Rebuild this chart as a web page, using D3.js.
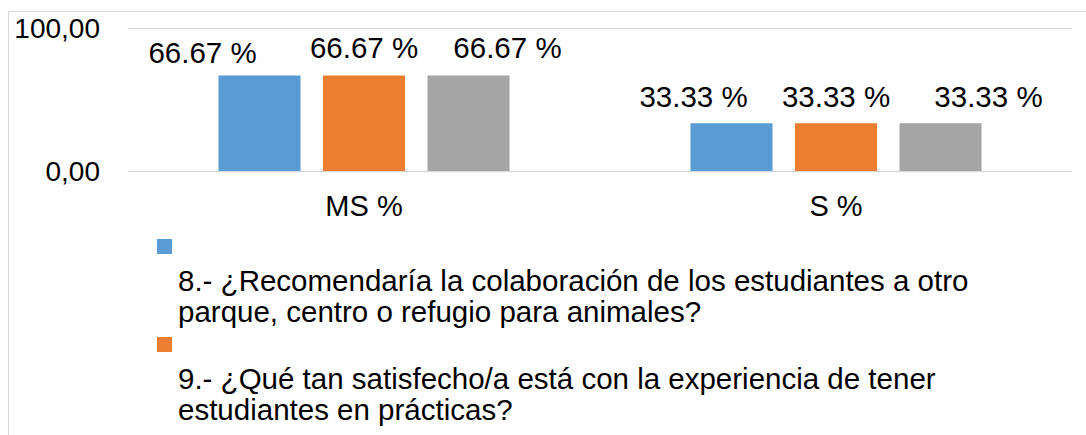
<!DOCTYPE html>
<html>
<head>
<meta charset="utf-8">
<script src="https://cdn.jsdelivr.net/npm/d3@7"></script>
<style>
  html, body { margin: 0; padding: 0; background: #fff; overflow: hidden; }
  svg { display: block; font-family: "Liberation Sans", Arial, sans-serif; }
</style>
</head>
<body>
<svg id="chart" width="1086" height="435"></svg>
<script>
// ---- data ----
const categories = ["MS %", "S %"];
const seriesKeys = ["q8", "q9", "q10"];
const seriesColors = ["#5b9bd5", "#ed7d31", "#a5a5a5"];
const q8Values = [66.67, 33.33];
const q9Values = [66.67, 33.33];
const q10Values = [66.67, 33.33];
const yTicks = [0, 100];
const legendLines = [
  ["8.- ¿Recomendaría la colaboración de los estudiantes a otro", "parque, centro o refugio para animales?"],
  ["9.- ¿Qué tan satisfecho/a está con la experiencia de tener", "estudiantes en prácticas?"]
];

const values = [q8Values, q9Values, q10Values];
const fmtTick = v => v.toFixed(2).replace(".", ",");
const fmtLabel = v => v.toFixed(2) + " %";

// ---- layout ----
const svg = d3.select("#chart");
const plot = { left: 128, right: 1072, top: 27.7, bottom: 171 };
const FS_TICK = 28, FS_CAT = 29, FS_LABEL = 29.5, FS_LEG = 29.5;

// outer chart border (extends beyond viewport on right/bottom)
svg.append("rect")
  .attr("x", 8.5).attr("y", 11.5)
  .attr("width", 1200).attr("height", 600)
  .attr("fill", "none").attr("stroke", "#d9d9d9").attr("stroke-width", 1);

const x0 = d3.scaleBand().domain(categories).range([plot.left, plot.right]).padding(0);
const x1 = d3.scaleBand().domain(seriesKeys).range([0, x0.bandwidth()])
  .paddingInner(0.215).paddingOuter(0.866);
const y = d3.scaleLinear().domain([0, 100]).range([plot.bottom, plot.top]);

// gridlines
svg.append("g").selectAll("line").data(yTicks).join("line")
  .attr("x1", plot.left).attr("x2", plot.right)
  .attr("y1", d => Math.round(y(d)) + 0.5).attr("y2", d => Math.round(y(d)) + 0.5)
  .attr("stroke", "#d9d9d9").attr("stroke-width", 1.5);

// y axis labels (via d3 axis, domain/ticks hidden)
const yAxis = d3.axisLeft(y).tickValues(yTicks).tickFormat(fmtTick).tickSize(0).tickPadding(0);
const gy = svg.append("g").attr("transform", "translate(100,0)").call(yAxis);
gy.select(".domain").remove();
gy.selectAll("text").attr("font-size", FS_TICK).attr("fill", "#000")
  .attr("font-family", "Liberation Sans, Arial, sans-serif").attr("dy", "0.35em");

// bars
const barData = [];
categories.forEach((c, ci) => {
  seriesKeys.forEach((k, si) => barData.push({ c, ci, k, si, v: values[si][ci] }));
});
svg.append("g").selectAll("rect").data(barData).join("rect")
  .attr("x", d => x0(d.c) + x1(d.k))
  .attr("y", d => y(d.v))
  .attr("width", x1.bandwidth())
  .attr("height", d => y(0) - y(d.v))
  .attr("fill", d => seriesColors[d.si]);

// data labels (Excel-style nudged positions)
const labelDx = [[-57, 0, 39], [-38, 0, 48]];
const labelDy = [[-12, -17, -17], [-16, -16, -16]];
svg.append("g").selectAll("text").data(barData).join("text")
  .attr("x", d => x0(d.c) + x1(d.k) + x1.bandwidth() / 2 + labelDx[d.ci][d.si])
  .attr("y", d => y(d.v) + labelDy[d.ci][d.si])
  .attr("text-anchor", "middle").attr("font-size", FS_LABEL).attr("fill", "#000")
  .text(d => fmtLabel(d.v));

// category axis labels
const xAxis = d3.axisBottom(x0).tickSize(0).tickPadding(0);
const gx = svg.append("g").attr("transform", `translate(0,${plot.bottom})`).call(xAxis);
gx.select(".domain").remove();
gx.selectAll("text").attr("font-size", FS_CAT).attr("fill", "#000")
  .attr("font-family", "Liberation Sans, Arial, sans-serif")
  .attr("y", 45).attr("dy", 0);

// legend
const legend = svg.append("g");
legendLines.forEach((lines, i) => {
  const top = 239 + i * 98;
  legend.append("rect").attr("x", 157).attr("y", top).attr("width", 15).attr("height", 15)
    .attr("fill", seriesColors[i]);
  lines.forEach((t, j) => {
    legend.append("text").attr("x", 178).attr("y", top + 52 + j * 31)
      .attr("font-size", FS_LEG).attr("fill", "#000").text(t);
  });
});
</script>
</body>
</html>
